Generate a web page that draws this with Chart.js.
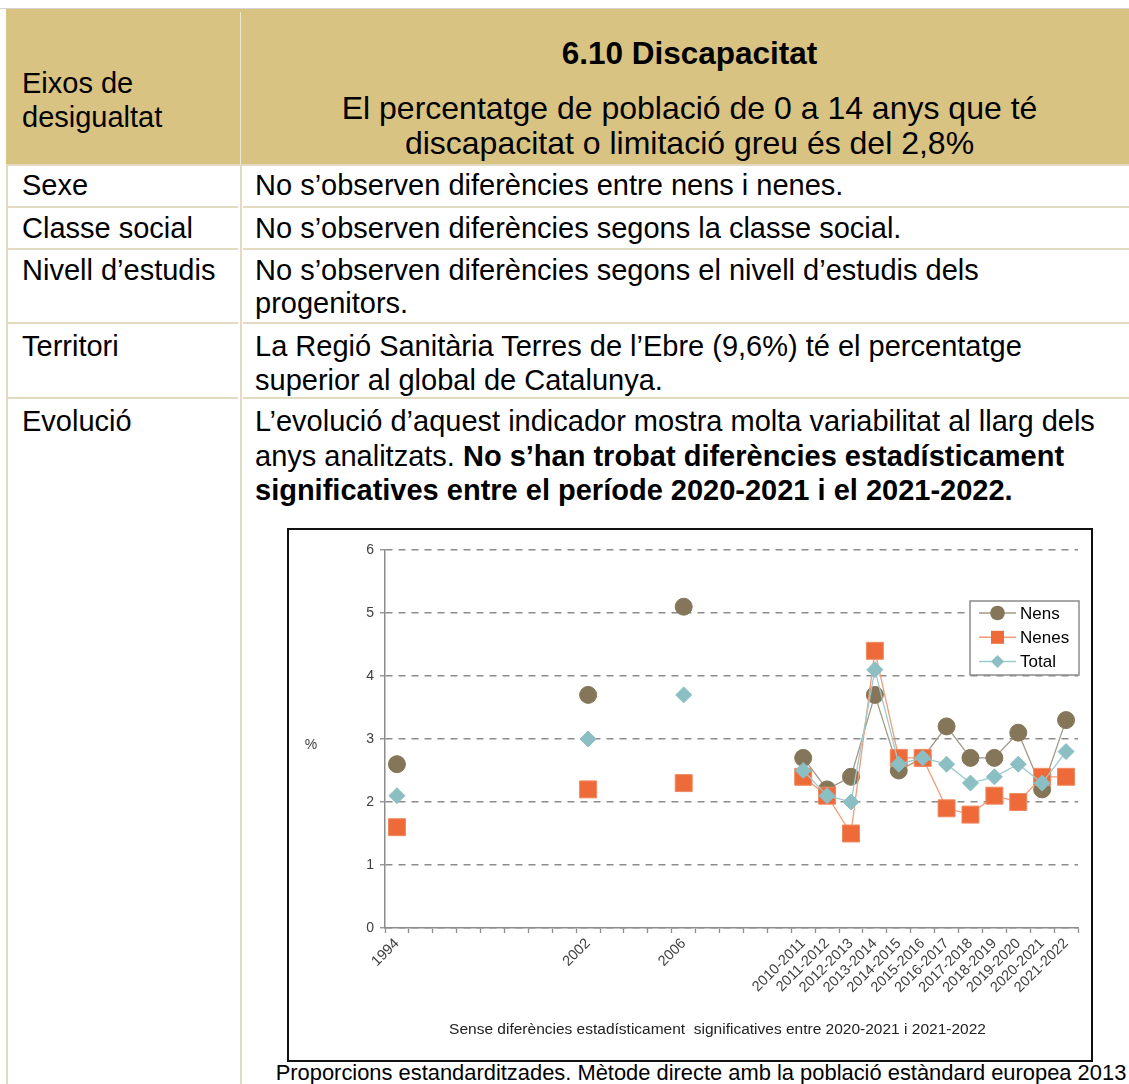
<!DOCTYPE html>
<html>
<head>
<meta charset="utf-8">
<script src="https://cdn.jsdelivr.net/npm/chart.js@4.4.1/dist/chart.umd.min.js"></script>
<style>
  body { margin: 0; width: 1129px; height: 1084px; position: relative; background: #fff;
         font-family: "Liberation Sans", Arial, sans-serif; color: #000; overflow: hidden; }
  .abs { position: absolute; white-space: nowrap; }
  .t { font-size: 29px; line-height: 34px; }
  .hl { position: absolute; height: 2px; background: #e2dbc1; }
  .vl { position: absolute; width: 2px; background: #e2dbc1; }
  #caixa { position: absolute; left: 287px; top: 528px; width: 806px; height: 534px;
           border: 2px solid #111; box-sizing: border-box; background: #fff; }
</style>
</head>
<body>
  <!-- capçalera -->
  <div class="abs" style="left:0;top:8px;width:1129px;height:1px;background:#d4d4d4"></div>
  <div class="abs" style="left:6px;top:9px;width:1123px;height:155px;background:#d8c383"></div>
  <div class="abs" style="left:240px;top:12px;width:1px;height:152px;background:#efe7cf"></div>
  <div class="abs t" style="left:22px;top:66px">Eixos de</div>
  <div class="abs t" style="left:22px;top:100px">desigualtat</div>
  <div class="abs" style="left:250px;width:879px;top:34px;text-align:center;font-size:31.5px;line-height:38px;font-weight:bold">6.10 Discapacitat</div>
  <div class="abs" style="left:250px;width:879px;top:89px;text-align:center;font-size:32px;line-height:38px">El percentatge de població de 0 a 14 anys que té</div>
  <div class="abs" style="left:250px;width:879px;top:124px;text-align:center;font-size:32px;line-height:38px">discapacitat o limitació greu és del 2,8%</div>

  <!-- línies de la taula -->
  <div class="hl" style="left:6px;top:164px;width:1123px"></div>
  <div class="hl" style="left:6px;top:206px;width:232px"></div><div class="hl" style="left:243px;top:206px;width:886px"></div>
  <div class="hl" style="left:6px;top:248px;width:232px"></div><div class="hl" style="left:243px;top:248px;width:886px"></div>
  <div class="hl" style="left:6px;top:322px;width:232px"></div><div class="hl" style="left:243px;top:322px;width:886px"></div>
  <div class="hl" style="left:6px;top:397px;width:232px"></div><div class="hl" style="left:243px;top:397px;width:886px"></div>
  <div class="vl" style="left:6px;top:166px;height:918px"></div>
  <div class="vl" style="left:240px;top:166px;height:918px"></div>

  <!-- files -->
  <div class="abs t" style="left:22px;top:168px">Sexe</div>
  <div class="abs t" style="left:255px;top:168px">No s’observen diferències entre nens i nenes.</div>
  <div class="abs t" style="left:22px;top:211px">Classe social</div>
  <div class="abs t" style="left:255px;top:211px">No s’observen diferències segons la classe social.</div>
  <div class="abs t" style="left:22px;top:253px">Nivell d’estudis</div>
  <div class="abs t" style="left:255px;top:253px">No s’observen diferències segons el nivell d’estudis dels</div>
  <div class="abs t" style="left:255px;top:286px">progenitors.</div>
  <div class="abs t" style="left:22px;top:329px">Territori</div>
  <div class="abs t" style="left:255px;top:329px">La Regió Sanitària Terres de l’Ebre (9,6%) té el percentatge</div>
  <div class="abs t" style="left:255px;top:363px">superior al global de Catalunya.</div>
  <div class="abs t" style="left:22px;top:404px">Evolució</div>
  <div class="abs t" style="left:255px;top:404px">L’evolució d’aquest indicador mostra molta variabilitat al llarg dels</div>
  <div class="abs t" style="left:255px;top:439px">anys analitzats. <b>No s’han trobat diferències estadísticament</b></div>
  <div class="abs t" style="left:255px;top:473px"><b>significatives entre el període 2020-2021 i el 2021-2022.</b></div>

  <div id="caixa"><canvas id="grafic"></canvas></div>
  <div class="abs" style="left:262px;width:878px;top:1061px;text-align:center;font-size:21.9px;line-height:24px">Proporcions estandarditzades. Mètode directe amb la població estàndard europea 2013</div>

<script>
// categories (anys i períodes), amb buits per als anys sense dades
const categories = ['1994', '', '', '', '', '', '', '', '2002', '', '', '', '2006', '', '', '', '',
  '2010-2011', '2011-2012', '2012-2013', '2013-2014', '2014-2015', '2015-2016',
  '2016-2017', '2017-2018', '2018-2019', '2019-2020', '2020-2021', '2021-2022'];

const nens = [2.6, null, null, null, null, null, null, null, 3.7, null, null, null, 5.1, null, null, null, null,
  2.7, 2.2, 2.4, 3.7, 2.5, 2.7, 3.2, 2.7, 2.7, 3.1, 2.2, 3.3];
const nenes = [1.6, null, null, null, null, null, null, null, 2.2, null, null, null, 2.3, null, null, null, null,
  2.4, 2.1, 1.5, 4.4, 2.7, 2.7, 1.9, 1.8, 2.1, 2.0, 2.4, 2.4];
const total = [2.1, null, null, null, null, null, null, null, 3.0, null, null, null, 3.7, null, null, null, null,
  2.5, 2.1, 2.0, 4.1, 2.6, 2.7, 2.6, 2.3, 2.4, 2.6, 2.3, 2.8];

const yTicks = [0, 1, 2, 3, 4, 5, 6];
const nota = 'Sense diferències estadísticament  significatives entre 2020-2021 i 2021-2022';
const font = '"Liberation Sans", Arial, sans-serif';

// llegenda dins de l'àrea del gràfic, etiqueta "%" i nota inferior
const extres = {
    id: 'extres',
    afterDraw(chart) {
        const { ctx, chartArea: ca } = chart;
        ctx.save();
        ctx.font = '14px ' + font;
        ctx.fillStyle = '#404040';
        ctx.textAlign = 'center';
        ctx.textBaseline = 'middle';
        ctx.fillText('%', 22, (ca.top + ca.bottom) / 2 + 6);

        // nota sota l'eix
        ctx.font = '15.5px ' + font;
        ctx.fillStyle = '#222';
        ctx.fillText(nota, (ca.left + ca.right) / 2 - 14, ca.bottom + 102);

        const bx = ca.right - 108, by = ca.top + 51, bw = 109, bh = 74;
        ctx.fillStyle = '#fff';
        ctx.fillRect(bx, by, bw, bh);
        ctx.strokeStyle = '#8c8c8c';
        ctx.lineWidth = 1.5;
        ctx.strokeRect(bx, by, bw, bh);

        chart.data.datasets.forEach((ds, i) => {
            const y = by + 12 + i * 24.3;
            const mx = bx + 27.5;
            ctx.strokeStyle = ds.borderColor;
            ctx.lineWidth = 1.5;
            ctx.beginPath();
            ctx.moveTo(bx + 9, y);
            ctx.lineTo(bx + 46, y);
            ctx.stroke();
            ctx.fillStyle = ds.pointBackgroundColor;
            ctx.beginPath();
            if (ds.pointStyle === 'circle') {
                ctx.arc(mx, y, 7.3, 0, Math.PI * 2);
            } else if (ds.pointStyle === 'rect') {
                ctx.rect(mx - 6.5, y - 6.5, 13, 13);
            } else {
                ctx.moveTo(mx - 6.5, y);
                ctx.lineTo(mx, y - 6.5);
                ctx.lineTo(mx + 6.5, y);
                ctx.lineTo(mx, y + 6.5);
                ctx.closePath();
            }
            ctx.fill();
            ctx.fillStyle = '#000';
            ctx.textAlign = 'left';
            ctx.font = '17px ' + font;
            ctx.fillText(ds.label, bx + 50, y + 1);
        });
        ctx.restore();
    }
};

const ctx = document.getElementById('grafic').getContext('2d');
const chart = new Chart(ctx, {
    type: 'line',
    data: {
        labels: categories,
        datasets: [
            {
                label: 'Nens', data: nens, order: 3,
                borderColor: '#a49886', borderWidth: 1.3,
                pointStyle: 'circle', pointRadius: 8.5,
                pointBackgroundColor: '#857659', pointBorderColor: '#857659', pointBorderWidth: 1
            },
            {
                label: 'Nenes', data: nenes, order: 2,
                borderColor: '#f39b78', borderWidth: 1.3,
                pointStyle: 'rect', pointRadius: 12,
                pointBackgroundColor: '#ee6a38', pointBorderColor: '#f08a62', pointBorderWidth: 1
            },
            {
                label: 'Total', data: total, order: 1,
                borderColor: '#9ccbcd', borderWidth: 1.3,
                pointStyle: 'rectRot', pointRadius: 8,
                pointBackgroundColor: '#8cbfc3', pointBorderColor: '#8cbfc3', pointBorderWidth: 1
            }
        ]
    },
    options: {
        responsive: true,
        maintainAspectRatio: false,
        animation: false,
        spanGaps: false,
        layout: { padding: { top: 20, right: 10, bottom: 58, left: 0 } },
        plugins: {
            legend: { display: false },
            tooltip: { enabled: false }
        },
        scales: {
            x: {
                offset: true,
                grid: { display: true, drawOnChartArea: false, drawTicks: true, offset: true,
                        tickLength: 5, tickColor: '#8c8c8c', tickWidth: 1.3, color: '#8c8c8c' },
                border: { display: true, color: '#8c8c8c', width: 1.5 },
                ticks: { autoSkip: false, maxRotation: 45, minRotation: 45, padding: 2,
                         font: { size: 14.5, family: font }, color: '#404040' },
                afterFit: s => { s.height = 74; }
            },
            y: {
                min: 0, max: 6,
                afterBuildTicks: s => { s.ticks = yTicks.map(v => ({ value: v })); },
                ticks: { padding: 6, font: { size: 14, family: font }, color: '#404040' },
                grid: { color: '#8c8c8c', lineWidth: 1.5, tickLength: 5, tickColor: '#8c8c8c', tickWidth: 1.3 },
                border: { display: true, color: '#8c8c8c', width: 1.5, dash: [7, 6] },
                afterFit: s => { s.width = 96; }
            }
        }
    },
    plugins: [extres]
});
</script>
</body>
</html>
